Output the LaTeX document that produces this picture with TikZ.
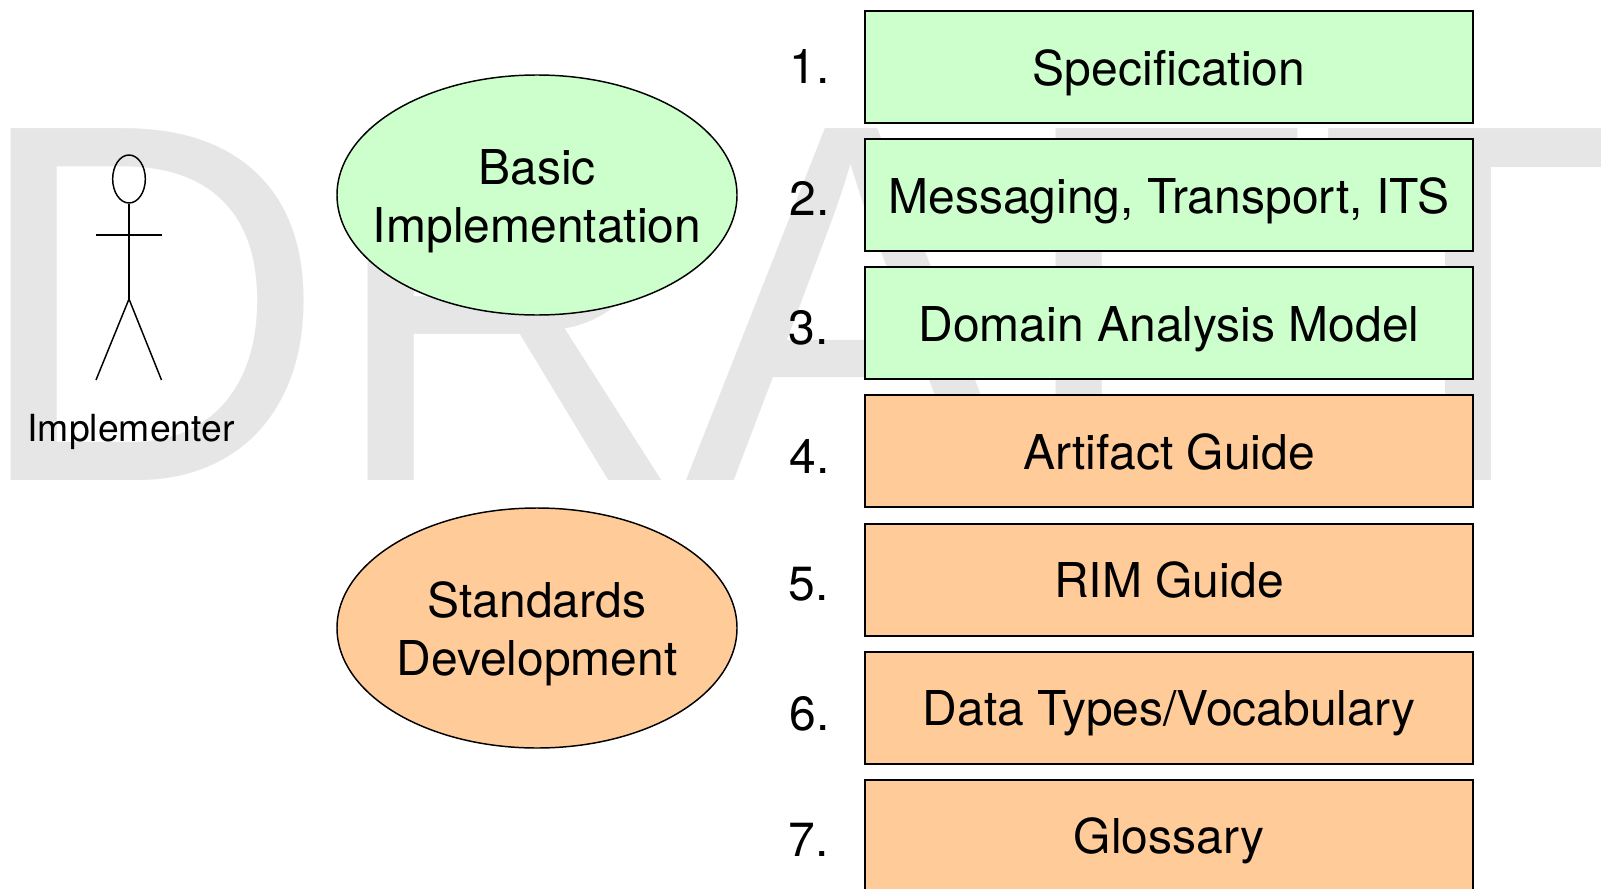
\documentclass[tikz,border=0pt]{standalone}
\usepackage{fontspec}
\setmainfont{TeX Gyre Heros}
\newfontfamily\wmfont{Liberation Sans}
\usetikzlibrary{shapes.geometric}
\definecolor{lgreen}{HTML}{CCFFCC}
\definecolor{lorange}{HTML}{FFCC99}
\definecolor{wm}{HTML}{E6E6E6}
\tikzset{
  stepbox/.style={draw=black,line width=1.5pt,minimum width=456pt,minimum height=84pt,inner sep=0pt,
    font=\fontsize{36}{43.5}\selectfont,text height=27.6pt,text depth=0pt},
  numlabel/.style={anchor=base,inner sep=0pt,font=\fontsize{36}{43.5}\selectfont},
  oval/.style={ellipse,draw=black,line width=1.1pt,minimum width=300pt,minimum height=180pt,inner sep=0pt},
  ovaltext/.style={align=center,inner sep=0pt,font=\fontsize{36}{43.5}\selectfont},
  figline/.style={draw=black,line width=1.1pt}
}
\begin{document}
\begin{tikzpicture}[x=0.75pt,y=-0.75pt]
\useasboundingbox (0,0) rectangle (1601,888);
\clip (0,0) rectangle (1601,888);
\fill[white] (0,0) rectangle (1601,888);
\node[anchor=base west,inner sep=0pt,text=wm,font=\wmfont\fontsize{371}{371}\selectfont] (draft) at (-29.5,480) {\scalebox{1}[1.034]{DRAFT}};
% boxes
\node[stepbox,fill=lgreen] (b1) at (1169,67.5) {Specification};
\node[stepbox,fill=lgreen] (b2) at (1169,195) {Messaging, Transport, ITS};
\node[stepbox,fill=lgreen] (b3) at (1169,323) {Domain Analysis Model};
\node[stepbox,fill=lorange] (b4) at (1169,451) {Artifact Guide};
\node[stepbox,fill=lorange] (b5) at (1169,579.5) {RIM Guide};
\node[stepbox,fill=lorange] (b6) at (1169,707.5) {Data Types/Vocabulary};
\node[stepbox,fill=lorange] (b7) at (1169,835.5) {Glossary};
% numbers
\node[numlabel] (n1) at (809.5,84) {1.};
\node[numlabel] (n2) at (809.5,215) {2.};
\node[numlabel] (n3) at (808.5,344) {3.};
\node[numlabel] (n4) at (809.5,473) {4.};
\node[numlabel] (n5) at (808.5,600) {5.};
\node[numlabel] (n6) at (809.5,730) {6.};
\node[numlabel] (n7) at (808.5,856) {7.};
% ovals
\node[oval,fill=lgreen] (e1) at (537,195) {};
\node[ovaltext] (t1) at (537,201) {Basic\\Implementation};
\node[oval,fill=lorange] (e2) at (537,628) {};
\node[ovaltext] (t2) at (537,634) {Standards\\Development};
% actor
\node[ellipse,draw=black,line width=1.1pt,minimum width=24.5pt,minimum height=36pt,inner sep=0pt] (head) at (129,179) {};
\coordinate (hip) at (129,299);
\coordinate (armL) at (96,235);
\coordinate (armR) at (162,235);
\coordinate (legL) at (96,380);
\coordinate (legR) at (161.5,380);
\draw[figline] (head.south) -- (hip);
\draw[figline] (armL) -- (armR);
\draw[figline] (legL) -- (hip) -- (legR);
\node[inner sep=0pt,anchor=base,font=\fontsize{28}{34}\selectfont] (actor) at (131,441.5) {Implementer};
\end{tikzpicture}
\end{document}
